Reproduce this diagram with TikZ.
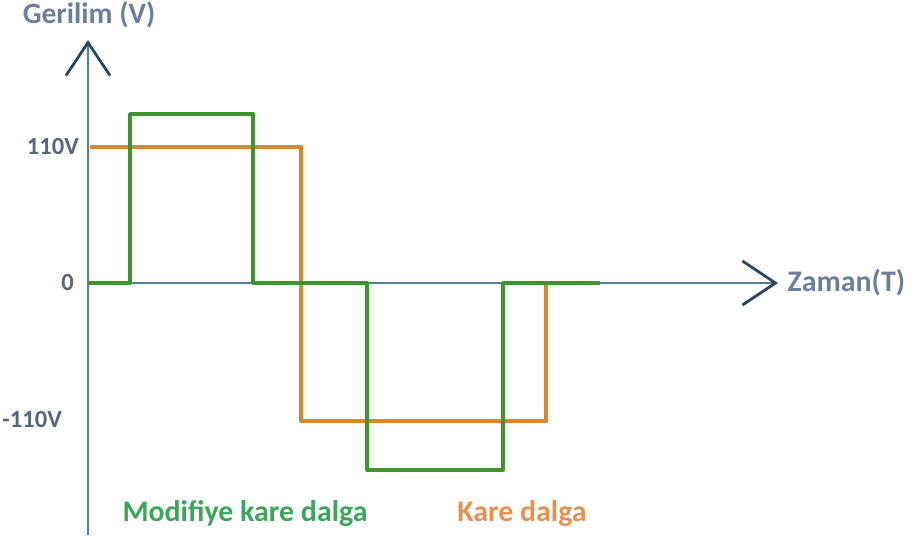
\documentclass[tikz,border=0pt]{standalone}
\usepackage{fontspec}
\setmainfont{Carlito}
\usepackage{tikz}
\usetikzlibrary{arrows.meta, positioning}
\definecolor{axisblue}{RGB}{78, 128, 160}
\definecolor{tipdark}{RGB}{40, 72, 92}
\definecolor{labelgray}{RGB}{108, 126, 156}
\definecolor{tickgray}{RGB}{88, 102, 120}
\definecolor{wavegreen}{RGB}{60, 150, 45}
\definecolor{waveorange}{RGB}{214, 136, 48}
\definecolor{textgreen}{RGB}{60, 165, 90}
\definecolor{textorange}{RGB}{232, 145, 78}

\begin{document}
\begin{tikzpicture}[x=0.02cm, y=-0.02cm,
    axisline/.style={line width=1.1pt, axisblue, -{Straight Barb[length=0.66cm, width=0.88cm, line width=1.6pt, color=tipdark]}},
    wave/.style={line width=2.2pt, line join=round},
    ticklabel/.style={font=\fontsize{14}{17}\selectfont\bfseries, text=tickgray},
    axislabel/.style={font=\fontsize{16.8}{20}\selectfont\bfseries, text=labelgray},
    legend/.style={font=\fontsize{17}{21}\selectfont\bfseries}]
  \useasboundingbox (0, 0) rectangle (924, 539);

  % Axes
  \coordinate (origin) at (88, 283);
  \coordinate (ybottom) at (88, 535);
  \coordinate (ytip) at (88, 40);
  \coordinate (xtip) at (778, 283);
  \draw[line width=1.1pt, axisblue] (ybottom) -- (origin);
  \draw[axisline] (origin) -- (ytip);
  \draw[axisline] (origin) -- (xtip);
  \node[axislabel] (ylabel) at (89, 15) {Gerilim (V)};
  \node[axislabel, font=\fontsize{17}{20}\selectfont\bfseries, right=2pt of xtip] (xlabel) {Zaman(T)};

  % Tick labels
  \node[ticklabel, anchor=east] (vplus) at (85, 147) {110V};
  \node[ticklabel, anchor=east] (vzero) at (80, 283) {0};
  \node[ticklabel, anchor=east] (vminus) at (68, 420) {-110V};

  % Square wave
  \draw[wave, waveorange] (90, 147) -- (301, 147) -- (301, 421) -- (546, 421) -- (546, 283);

  % Modified square wave
  \draw[wave, wavegreen] (88, 283) -- (130, 283) -- (130, 114) -- (253, 114) -- (253, 283)
    -- (367, 283) -- (367, 470) -- (503, 470) -- (503, 283) -- (600, 283);

  % Legend
  \node[legend, text=textgreen] (modlabel) at (245, 514) {Modifiye kare dalga};
  \node[legend, text=textorange] (sqlabel) at (522, 514) {Kare dalga};
\end{tikzpicture}
\end{document}
